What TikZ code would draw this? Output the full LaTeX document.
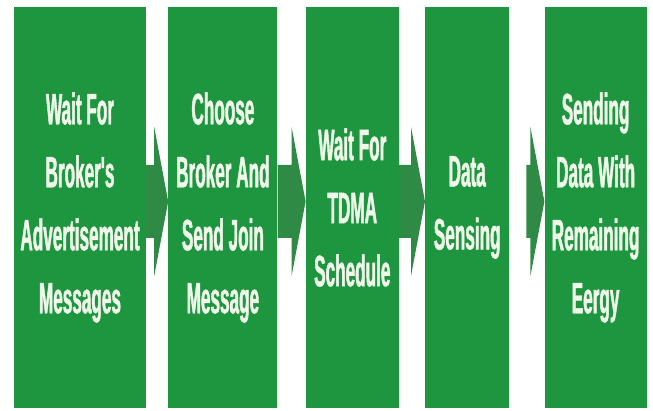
\documentclass[tikz,border=0pt]{standalone}
\usepackage{fontspec}
\usepackage{tikz}
\usetikzlibrary{positioning,calc}
\newfontfamily\stagefont{Liberation Sans}[FakeStretch=0.39, FakeBold=1]
\definecolor{boxgreen}{HTML}{1E9640}
\definecolor{flowgreen}{HTML}{2E8A45}
\definecolor{paletext}{HTML}{F0F8EA}
\tikzset{
  stage/.style={fill=boxgreen, draw=none, text=paletext, align=center,
                minimum height=401pt, inner sep=0pt,
                font=\stagefont\bfseries\fontsize{44}{63}\selectfont},
  flowfill/.style={fill=flowgreen, draw=none}
}
% arrow from #2 to #3, tail shifted by #1
\newcommand\stageflow[3][0]{%
  \fill[flowfill] ($(#2.east)+(#1,42.5)$) -- ($(#3.west)+(-14,42.5)$)
    -- ($(#3.west)+(-14,80.5)$) -- ($(#3.west)+(0,6)$)
    -- ($(#3.west)+(-14,-68.5)$) -- ($(#3.west)+(-14,-30.5)$)
    -- ($(#2.east)+(#1,-30.5)$) -- cycle;}
\begin{document}
\begin{tikzpicture}[x=1pt, y=1pt]
  \useasboundingbox (0,0) rectangle (653,411);
  \node[stage, minimum width=132pt] (s1) at (80,203.5) {Wait For\\Broker's\\Advertisement\\Messages};
  \node[stage, minimum width=109pt, right=22pt of s1] (s2) {Choose\\Broker And\\Send Join\\Message};
  \node[stage, minimum width=93pt,  right=28pt of s2] (s3) {Wait For\\TDMA\\Schedule};
  \node[stage, minimum width=84pt,  right=26pt of s3] (s4) {Data\\Sensing};
  \node[stage, minimum width=102pt, right=35pt of s4] (s5) {Sending\\Data With\\Remaining\\Eergy};
  \stageflow{s1}{s2}
  \stageflow{s2}{s3}
  \stageflow{s3}{s4}
  \stageflow[17]{s4}{s5}
\end{tikzpicture}
\end{document}
